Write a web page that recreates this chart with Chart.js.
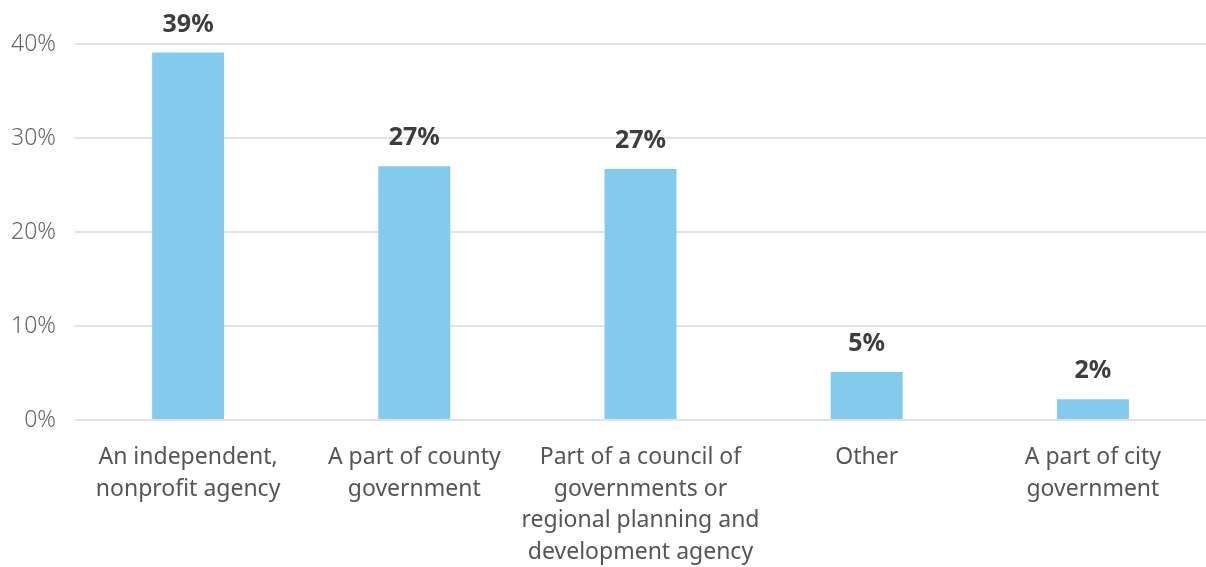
<!DOCTYPE html>
<html>
<head>
<meta charset="utf-8">
<script src="https://cdn.jsdelivr.net/npm/chart.js@4"></script>
<style>
    html, body { margin: 0; padding: 0; background: #fff; }
    #wrap { width: 1206px; height: 567px; }
</style>
</head>
<body>
<div id="wrap"><canvas id="agencyChart" width="1206" height="567"></canvas></div>
<script>
const categories = [
    ['An independent,', 'nonprofit agency'],
    ['A part of county', 'government'],
    ['Part of a council of', 'governments or', 'regional planning and', 'development agency'],
    ['Other'],
    ['A part of city', 'government']
];
const shares = [39.1, 27.0, 26.7, 5.1, 2.2];
const shareLabels = ['39%', '27%', '27%', '5%', '2%'];
const yTicks = [0, 10, 20, 30, 40];

const valueLabels = {
    id: 'valueLabels',
    afterDatasetsDraw(chart) {
        const ctx = chart.ctx;
        const meta = chart.getDatasetMeta(0);
        ctx.save();
        ctx.font = 'bold 25px "Noto Sans"';
        ctx.fillStyle = '#3d3d3d';
        ctx.textAlign = 'center';
        ctx.textBaseline = 'middle';
        meta.data.forEach((bar, i) => {
            ctx.fillText(shareLabels[i], bar.x, bar.y - 28);
        });
        ctx.restore();
    }
};

function initChart() {
    const ctx = document.getElementById('agencyChart').getContext('2d');
    new Chart(ctx, {
        type: 'bar',
        data: {
            labels: categories,
            datasets: [{
                data: shares,
                backgroundColor: '#82cbec',
                barPercentage: 0.318,
                categoryPercentage: 1
            }]
        },
        options: {
            responsive: false,
            animation: false,
            layout: { padding: { top: 44, right: 0, bottom: 0, left: 0 } },
            plugins: {
                legend: { display: false },
                tooltip: { enabled: false }
            },
            scales: {
                x: {
                    grid: { display: false, drawTicks: false },
                    border: { display: false },
                    ticks: {
                        color: '#555',
                        font: { family: '"Noto Sans"', size: 23, lineHeight: 1.39 },
                        padding: 21,
                        maxRotation: 0,
                        autoSkip: false
                    },
                    afterFit(axis) { axis.height = 147; }
                },
                y: {
                    min: 0,
                    max: 40,
                    afterBuildTicks(axis) { axis.ticks = yTicks.map(v => ({ value: v })); },
                    grid: { color: '#e2e2e2', lineWidth: 2, drawTicks: false },
                    border: { display: false },
                    ticks: {
                        color: '#666',
                        font: { family: '"Noto Sans"', size: 23, weight: '300' },
                        padding: 19,
                        callback: v => v + '%'
                    },
                    afterFit(axis) { axis.width = 75; }
                }
            }
        },
        plugins: [valueLabels]
    });
}

document.addEventListener('DOMContentLoaded', initChart);
</script>
</body>
</html>
